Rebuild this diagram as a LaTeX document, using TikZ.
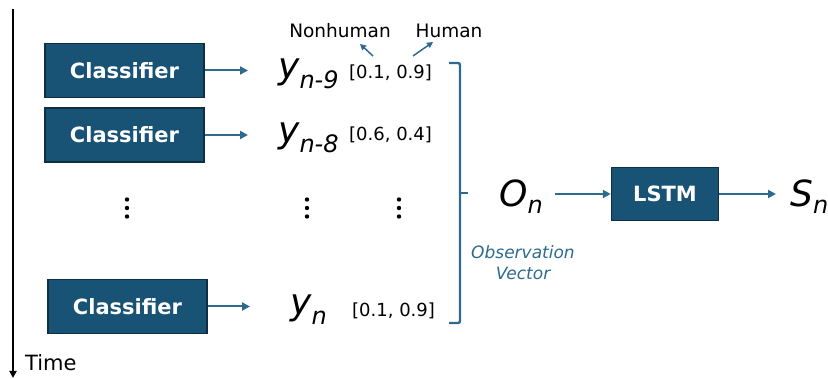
\documentclass[tikz,border=0pt]{standalone}
\usepackage{fontspec}
\setmainfont{DejaVu Sans}
\usetikzlibrary{arrows.meta}
\definecolor{boxfill}{HTML}{185274}
\definecolor{boxline}{HTML}{0E2E42}
\definecolor{arr}{HTML}{2D6A8E}
\newcommand{\fs}[1]{\fontsize{#1}{#1}\selectfont}
\newcommand{\symb}[3]{{\fs{36}\itshape #1}\raisebox{-#3pt}{\fs{24}\itshape #2}}
\begin{document}
\begin{tikzpicture}[x=1pt,y=-1pt,
 blk/.style={draw=boxline, line width=1.5pt, fill=boxfill, text=white, font=\fs{21}\bfseries, inner sep=0pt},
 cls/.style={blk, minimum width=159pt, minimum height=54pt},
 conn/.style={draw=arr, line width=2pt, -{Triangle[length=8pt,width=8pt]}},
 smallarr/.style={draw=arr, line width=1.5pt, -{Triangle[length=6pt,width=6pt]}},
 vec/.style={font=\fs{18}, inner sep=0pt, anchor=west},
 lab/.style={font=\fs{18.5}, inner sep=0pt},
 sym/.style={inner sep=0pt, anchor=base west},
 dot/.style={fill=black},
 ]
\useasboundingbox (0,0) rectangle (828,379);

% time axis
\coordinate (t0) at (13,9);
\coordinate (t1) at (13,378);
\draw[line width=1.8pt, -{Triangle[length=7pt,width=7pt]}] (t0) -- (t1);
\node[font=\fs{21}, inner sep=0pt, anchor=west] (time) at (25,363) {Time};

% classifiers
\node[cls] (c1) at (124.5,70.5) {Classifier};
\node[cls] (c2) at (124.5,135) {Classifier};
\node[cls] (c3) at (127.5,306.5) {Classifier};

% outputs
\node[sym] (y1) at (278,79) {\symb{y}{n-9}{10}};
\node[sym] (y2) at (278,143) {\symb{y}{n-8}{10}};
\node[sym] (y3) at (290,315) {\symb{y}{n}{10}};

\draw[conn, shorten >=30pt] (c1.east) -- (c1.east -| y1.west);
\draw[conn, shorten >=30pt] (c2.east) -- (c2.east -| y2.west);
\draw[conn, shorten >=40pt] (c3.east) -- (c3.east -| y3.west);

% vectors
\node[vec] (v1) at (349,73) {[0.1, 0.9]};
\node[vec] (v2) at (349,135) {[0.6, 0.4]};
\node[vec] (v3) at (352,311) {[0.1, 0.9]};

% class labels
\node[lab] (nh) at (340,31) {Nonhuman};
\node[lab] (hu) at (449,31) {Human};
\coordinate (a1s) at (373,56);
\coordinate (a1e) at (360,44);
\coordinate (a2s) at (413,56);
\coordinate (a2e) at (433,42);
\draw[smallarr] (a1s) -- (a1e);
\draw[smallarr] (a2s) -- (a2e);

% dots
\foreach \x in {127,307,399}{
  \foreach \y in {199.5,208,216.5}{
    \fill[dot] (\x,\y) circle (2.2);
  }
}

% bracket
\coordinate (b1) at (449,63);
\coordinate (b2) at (460,63);
\coordinate (b3) at (460,323);
\coordinate (b4) at (449,323);
\coordinate (bm) at (460,193);
\coordinate (bt) at (468,193);
\draw[arr, line width=2.4pt, rounded corners=2pt] (b1) -- (b2) -- (b3) -- (b4);
\draw[arr, line width=2.4pt] (bm) -- (bt);

% observation
\node[sym] (on) at (499,207) {\symb{O}{n}{7}};
\node[font=\fs{17}\itshape, text=arr, align=center, inner sep=0pt] (obs) at (523,263) {Observation\\[4pt]Vector};

% LSTM
\node[blk, minimum width=107pt, minimum height=53pt] (lstm) at (665,194) {LSTM};
\node[sym] (sn) at (790,207) {\symb{S}{n}{7}};

\draw[conn, shorten <=12pt] (lstm.west -| on.east) -- (lstm.west);
\draw[conn, shorten >=14pt] (lstm.east) -- (lstm.east -| sn.west);
\end{tikzpicture}
\end{document}
